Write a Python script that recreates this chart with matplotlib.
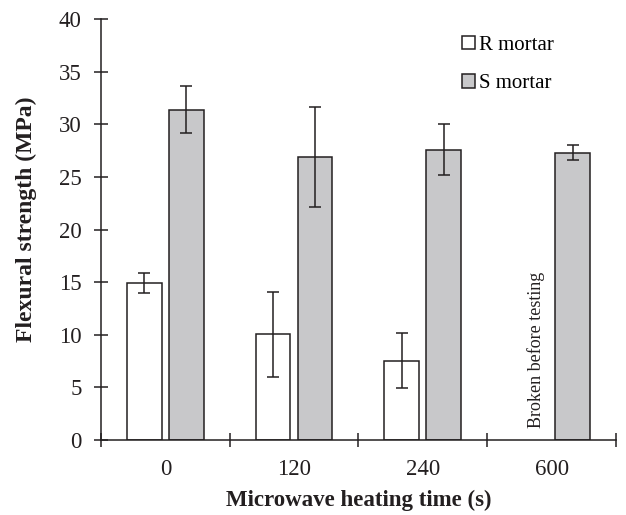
"""Flexural strength of R and S mortar after microwave heating."""

import matplotlib
matplotlib.use("Agg")
import matplotlib.pyplot as plt
import numpy as np

# data
heating_times = ["0", "120", "240", "600"]
r_strength = [14.9, 10.05, 7.55, np.nan]
r_error = [0.95, 4.05, 2.6, np.nan]
s_strength = [31.4, 26.9, 27.6, 27.3]
s_error = [2.2, 4.75, 2.4, 0.7]

plt.rcParams["font.family"] = ["Liberation Serif", "DejaVu Serif"]
ink = "#231f20"

fig = plt.figure(figsize=(6.26, 5.15), dpi=100)
ax = fig.add_axes([0.1613, 0.1456, 0.8227, 0.8175])

x = np.arange(len(heating_times))
width = 0.27
offset = 0.163
err_kw = dict(ecolor=ink, elinewidth=1.1, capsize=4, capthick=1.1)

ax.bar(x - offset, r_strength, width, color="white", edgecolor=ink,
       linewidth=1.1, yerr=r_error, error_kw=err_kw, label="R mortar")
ax.bar(x + offset, s_strength, width, color="#c8c8ca", edgecolor=ink,
       linewidth=1.1, yerr=s_error, error_kw=err_kw, label="S mortar")

ax.text(3 - offset + 0.04, 1.1, "Broken before testing", rotation=90, ha="center",
        va="bottom", fontsize=13, color=ink)

ax.set_xlim(-0.5, len(heating_times) - 0.5)
ax.set_ylim(0, 40)
ax.set_yticks(np.arange(0, 41, 5))
ax.set_xticks(x)
ax.set_xticklabels(heating_times)
ax.set_xticks(np.arange(-0.5, len(heating_times)), minor=True)
ax.tick_params(axis="x", which="major", length=0, pad=14, labelsize=16.5, colors=ink)
ax.tick_params(axis="x", which="minor", direction="inout", length=10, width=1.1, color=ink)
ax.tick_params(axis="y", direction="inout", length=10, width=1.1, labelsize=16.5,
               colors=ink, pad=9)

for side in ["top", "right"]:
    ax.spines[side].set_visible(False)
for side in ["left", "bottom"]:
    ax.spines[side].set_linewidth(1.1)
    ax.spines[side].set_color(ink)

ax.set_xlabel("Microwave heating time (s)", fontsize=16.5, fontweight="bold",
              color=ink, labelpad=7)
ax.set_ylabel("Flexural strength (MPa)", fontsize=17, fontweight="bold", color=ink)
ax.yaxis.set_label_coords(-0.124, 0.525)

ax.legend(loc="upper left", bbox_to_anchor=(0.665, 1.005), frameon=False,
          fontsize=15, handlelength=0.6, handleheight=0.6, handletextpad=0.2,
          labelspacing=0.95)

fig.savefig("out.png", dpi=100)
